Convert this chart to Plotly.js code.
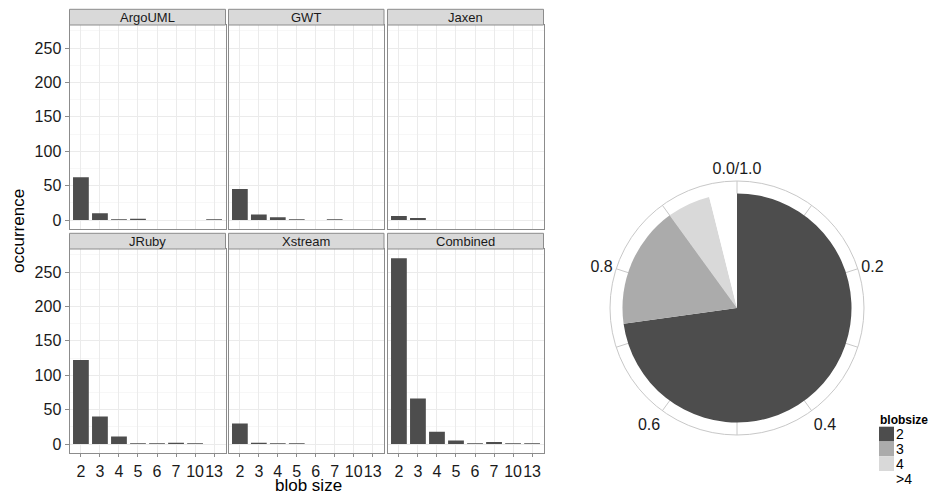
<!DOCTYPE html>
<html>
<head>
<meta charset="utf-8">
<script src="https://cdn.plot.ly/plotly-3.0.1.min.js"></script>
<style>
html,body{margin:0;padding:0;background:#fff;}
#chart{width:934px;height:495px;}
</style>
</head>
<body>
<div id="chart"></div>
<script>
// ---- data ----
const blobSizes = ['2','3','4','5','6','7','10','13'];
const projects = ['ArgoUML','GWT','Jaxen','JRuby','Xstream','Combined'];
const argoUML  = [62, 10, 1, 2, 0, 0, 0, 1];
const gwt      = [45, 8, 4, 1, 0, 1, 0, 0];
const jaxen    = [6, 3, 0, 0, 0, 0, 0, 0];
const jruby    = [122, 40, 11, 1, 1, 2, 1, 0];
const xstream  = [30, 2, 1, 1, 0, 0, 0, 0];
const combined = [270, 66, 18, 5, 1, 3, 1, 1];
const yTicks = [0, 50, 100, 150, 200, 250];
const yMinorTicks = [25, 75, 125, 175, 225, 275];

const pieLabels = ['2', '3', '4', '>4'];
const pieShare  = [0.728, 0.172, 0.061, 0.039];
const pieColors = ['#4d4d4d', '#ababab', '#d9d9d9', '#ffffff'];
const thetaTickVals = [0, 0.1, 0.2, 0.3, 0.4, 0.5, 0.6, 0.7, 0.8, 0.9];
const thetaTickText = ['0.0/1.0', '', '0.2', '', '0.4', '', '0.6', '', '0.8', ''];

const series = [argoUML, gwt, jaxen, jruby, xstream, combined];

// ---- layout geometry (pixels) ----
const W = 934, H = 495;
const px = v => v / W;
const py = v => 1 - v / H;
const cols = [[69.5, 225.5], [228.5, 384], [387.5, 543.5]];
const rows = [{strip: [9.3, 25], plot: [25, 229.3]}, {strip: [233.3, 249], plot: [249, 453.3]}];

const FONT = 'Liberation Sans, Arial, Helvetica, sans-serif';
const data = [];
const layout = {
  width: W, height: H,
  margin: {l: 0, r: 0, t: 0, b: 0},
  paper_bgcolor: '#fff', plot_bgcolor: '#fff',
  showlegend: false,
  font: {family: FONT, color: '#1a1a1a'},
  shapes: [], annotations: []
};

projects.forEach((name, i) => {
  const r = Math.floor(i / 3), c = i % 3;
  const xa = 'xaxis' + (i + 1), ya = 'yaxis' + (i + 1);
  const xr = 'x' + (i + 1), yr = 'y' + (i + 1);
  data.push({
    type: 'bar', x: blobSizes, y: series[i], xaxis: xr, yaxis: yr,
    width: 0.83,
    marker: {color: '#4d4d4d', line: {width: 0}},
    hoverinfo: 'x+y'
  });
  layout[xa] = {
    domain: [px(cols[c][0]), px(cols[c][1])],
    anchor: yr, type: 'category', categoryorder: 'array', categoryarray: blobSizes,
    range: [-0.6, 7.6],
    tickmode: 'array', tickvals: blobSizes, ticktext: blobSizes, tickangle: 0,
    showgrid: true, gridcolor: '#ebebeb', gridwidth: 1,
    showline: true, mirror: true, linecolor: '#8c8c8c', linewidth: 1,
    zeroline: false,
    ticks: r === 1 ? 'outside' : '', ticklen: 3, tickcolor: '#8c8c8c',
    showticklabels: r === 1,
    tickfont: {size: 16, color: '#1a1a1a', family: FONT},
    fixedrange: true
  };
  layout[ya] = {
    domain: [py(rows[r].plot[1]), py(rows[r].plot[0])],
    anchor: xr, range: [-13.5, 283.5],
    tickmode: 'array', tickvals: yTicks,
    showgrid: true, gridcolor: '#ebebeb', gridwidth: 1,
    minor: {tickmode: 'array', tickvals: yMinorTicks, showgrid: true, gridcolor: '#f7f7f7', gridwidth: 1, ticks: ''},
    showline: true, mirror: true, linecolor: '#8c8c8c', linewidth: 1,
    zeroline: false,
    ticks: c === 0 ? 'outside' : '', ticklen: 4, tickcolor: '#8c8c8c',
    showticklabels: c === 0,
    tickfont: {size: 16, color: '#1a1a1a', family: FONT},
    fixedrange: true
  };
  // strip
  layout.shapes.push({
    type: 'rect', xref: 'paper', yref: 'paper',
    x0: px(cols[c][0]), x1: px(cols[c][1]),
    y0: py(rows[r].strip[1]), y1: py(rows[r].strip[0]),
    fillcolor: '#d9d9d9', line: {color: '#8c8c8c', width: 1}, layer: 'above'
  });
  layout.annotations.push({
    xref: 'paper', yref: 'paper',
    x: px((cols[c][0] + cols[c][1]) / 2), y: py((rows[r].strip[0] + rows[r].strip[1]) / 2),
    text: name, showarrow: false, xanchor: 'center', yanchor: 'middle',
    font: {size: 13, color: '#1a1a1a', family: FONT}
  });
});

// axis titles
layout.annotations.push({
  xref: 'paper', yref: 'paper', x: px(18), y: py(231), text: 'occurrence',
  textangle: -90, showarrow: false, xanchor: 'center', yanchor: 'middle',
  font: {size: 17, color: '#000', family: FONT}
});
layout.annotations.push({
  xref: 'paper', yref: 'paper', x: px(308), y: py(475), text: 'blob size',
  showarrow: false, xanchor: 'center', yanchor: 'top', borderpad: 0,
  font: {size: 17, color: '#000', family: FONT}
});

// pie drawn as polar bars (coord_polar)
let cum = 0;
pieLabels.forEach((lab, k) => {
  const w = pieShare[k] * 360;
  data.push({
    type: 'barpolar', subplot: 'polar',
    r: [1], theta: [cum * 360 + w / 2], width: [w],
    name: lab,
    marker: {color: pieColors[k], line: {width: 0}},
    hoverinfo: 'name'
  });
  cum += pieShare[k];
});
const cx = 737, cy = 308, R = 127;
layout.polar = {
  domain: {x: [px(cx - R), px(cx + R)], y: [py(cy + R), py(cy - R)]},
  bgcolor: '#fff',
  radialaxis: {visible: false, range: [0, 1.109]},
  angularaxis: {
    rotation: 90, direction: 'clockwise',
    tickmode: 'array', tickvals: thetaTickVals.map(v => v * 360), ticktext: thetaTickText,
    showgrid: true, gridcolor: '#c8c8c8', gridwidth: 1,
    showline: true, linecolor: '#c8c8c8', linewidth: 1,
    ticks: '',
    tickfont: {size: 16, color: '#1a1a1a', family: FONT}
  },
  bargap: 0
};

// legend (manual, from pieLabels / pieColors)
layout.annotations.push({
  xref: 'paper', yref: 'paper', x: px(878), y: py(420), text: '<b>blobsize</b>',
  showarrow: false, xanchor: 'left', yanchor: 'middle',
  font: {size: 12, color: '#000', family: FONT}
});
const keyTop = 426.7, keyH = 14.8;
pieLabels.forEach((lab, k) => {
  const y0 = keyTop + k * keyH;
  layout.shapes.push({
    type: 'rect', xref: 'paper', yref: 'paper',
    x0: px(879), x1: px(894), y0: py(y0 + keyH), y1: py(y0),
    fillcolor: pieColors[k], line: {width: 0}
  });
  layout.annotations.push({
    xref: 'paper', yref: 'paper', x: px(895), y: py(y0 + keyH / 2), text: lab,
    showarrow: false, xanchor: 'left', yanchor: 'middle', borderpad: 0,
    font: {size: 14, color: '#000', family: FONT}
  });
});

Plotly.newPlot('chart', data, layout, {displayModeBar: false, staticPlot: true});
</script>
</body>
</html>
